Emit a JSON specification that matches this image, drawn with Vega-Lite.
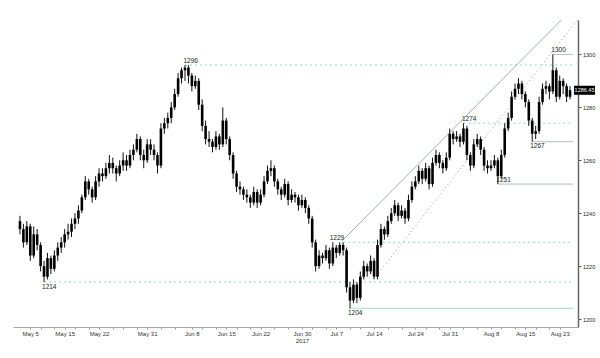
{
"$schema": "https://vega.github.io/schema/vega-lite/v6.json",
"width": 565, "height": 307,
"padding": {"left": 13, "top": 20, "right": 0, "bottom": 0},
"background": "white",
"config": {"view": {"stroke": null}, "font": "Liberation Sans",
 "axisY": {"orient":"right","title":null,"grid":false,"values":[1200,1210,1220,1230,1240,1250,1260,1270,1280,1290,1300,1310],"labelExpr":"datum.value % 20 == 0 ? datum.label : ''","format":"d","domainColor":"#666","domainWidth":1.5,"tickColor":"#555","tickSize":3,"labelFontSize":5.5,"labelColor":"#222","labelPadding":1.5,"labelOverlap":false,"labelFlush":false}},
"datasets": {
"ohlc": [
{"i":0,"o":1237,"h":1239,"l":1232,"c":1234},{"i":1,"o":1234,"h":1236,"l":1227,"c":1229},{"i":2,"o":1229,"h":1237,"l":1228,"c":1235},{"i":3,"o":1235,"h":1236,"l":1222,"c":1224},{"i":4,"o":1224,"h":1235,"l":1223,"c":1232},{"i":5,"o":1232,"h":1234,"l":1226,"c":1228},{"i":6,"o":1228,"h":1229,"l":1218,"c":1220},{"i":7,"o":1220,"h":1222,"l":1214,"c":1216},{"i":8,"o":1216,"h":1225,"l":1215,"c":1223},{"i":9,"o":1223,"h":1224,"l":1217,"c":1219},
{"i":10,"o":1219,"h":1226,"l":1218,"c":1224},{"i":11,"o":1224,"h":1229,"l":1222,"c":1227},{"i":12,"o":1227,"h":1231,"l":1225,"c":1229},{"i":13,"o":1229,"h":1234,"l":1227,"c":1232},{"i":14,"o":1232,"h":1236,"l":1230,"c":1233},{"i":15,"o":1233,"h":1238,"l":1231,"c":1236},{"i":16,"o":1236,"h":1240,"l":1234,"c":1238},{"i":17,"o":1238,"h":1243,"l":1236,"c":1241},{"i":18,"o":1241,"h":1247,"l":1240,"c":1246},{"i":19,"o":1246,"h":1254,"l":1245,"c":1252},
{"i":20,"o":1252,"h":1253,"l":1247,"c":1249},{"i":21,"o":1249,"h":1250,"l":1244,"c":1246},{"i":22,"o":1246,"h":1254,"l":1245,"c":1252},{"i":23,"o":1252,"h":1257,"l":1250,"c":1255},{"i":24,"o":1255,"h":1257,"l":1252,"c":1254},{"i":25,"o":1254,"h":1259,"l":1253,"c":1257},{"i":26,"o":1257,"h":1262,"l":1255,"c":1259},{"i":27,"o":1259,"h":1261,"l":1255,"c":1257},{"i":28,"o":1257,"h":1258,"l":1252,"c":1255},{"i":29,"o":1255,"h":1260,"l":1254,"c":1258},
{"i":30,"o":1258,"h":1263,"l":1256,"c":1260},{"i":31,"o":1260,"h":1262,"l":1256,"c":1258},{"i":32,"o":1258,"h":1264,"l":1257,"c":1262},{"i":33,"o":1262,"h":1266,"l":1260,"c":1264},{"i":34,"o":1264,"h":1270,"l":1263,"c":1268},{"i":35,"o":1268,"h":1269,"l":1260,"c":1262},{"i":36,"o":1262,"h":1264,"l":1257,"c":1260},{"i":37,"o":1260,"h":1268,"l":1259,"c":1266},{"i":38,"o":1266,"h":1268,"l":1262,"c":1264},{"i":39,"o":1264,"h":1266,"l":1260,"c":1262},
{"i":40,"o":1262,"h":1263,"l":1255,"c":1258},{"i":41,"o":1258,"h":1274,"l":1257,"c":1272},{"i":42,"o":1272,"h":1276,"l":1270,"c":1274},{"i":43,"o":1274,"h":1278,"l":1272,"c":1276},{"i":44,"o":1276,"h":1282,"l":1274,"c":1280},{"i":45,"o":1280,"h":1287,"l":1279,"c":1285},{"i":46,"o":1285,"h":1293,"l":1284,"c":1291},{"i":47,"o":1291,"h":1295,"l":1289,"c":1294},{"i":48,"o":1294,"h":1296,"l":1290,"c":1295},{"i":49,"o":1295,"h":1296,"l":1289,"c":1292},
{"i":50,"o":1292,"h":1293,"l":1286,"c":1288},{"i":51,"o":1288,"h":1292,"l":1287,"c":1290},{"i":52,"o":1290,"h":1291,"l":1279,"c":1281},{"i":53,"o":1281,"h":1283,"l":1271,"c":1273},{"i":54,"o":1273,"h":1275,"l":1266,"c":1268},{"i":55,"o":1268,"h":1271,"l":1265,"c":1267},{"i":56,"o":1267,"h":1268,"l":1263,"c":1265},{"i":57,"o":1265,"h":1271,"l":1264,"c":1269},{"i":58,"o":1269,"h":1270,"l":1264,"c":1266},{"i":59,"o":1266,"h":1280,"l":1265,"c":1275},
{"i":60,"o":1275,"h":1276,"l":1266,"c":1268},{"i":61,"o":1268,"h":1269,"l":1260,"c":1262},{"i":62,"o":1262,"h":1263,"l":1253,"c":1255},{"i":63,"o":1255,"h":1256,"l":1248,"c":1250},{"i":64,"o":1250,"h":1252,"l":1247,"c":1249},{"i":65,"o":1249,"h":1250,"l":1245,"c":1247},{"i":66,"o":1247,"h":1249,"l":1244,"c":1246},{"i":67,"o":1246,"h":1247,"l":1242,"c":1244},{"i":68,"o":1244,"h":1250,"l":1243,"c":1248},{"i":69,"o":1248,"h":1249,"l":1242,"c":1244},
{"i":70,"o":1244,"h":1249,"l":1243,"c":1247},{"i":71,"o":1247,"h":1254,"l":1246,"c":1252},{"i":72,"o":1252,"h":1258,"l":1251,"c":1256},{"i":73,"o":1256,"h":1260,"l":1254,"c":1257},{"i":74,"o":1257,"h":1258,"l":1250,"c":1252},{"i":75,"o":1252,"h":1253,"l":1247,"c":1249},{"i":76,"o":1249,"h":1250,"l":1245,"c":1247},{"i":77,"o":1247,"h":1253,"l":1246,"c":1251},{"i":78,"o":1251,"h":1252,"l":1243,"c":1245},{"i":79,"o":1245,"h":1249,"l":1244,"c":1247},
{"i":80,"o":1247,"h":1248,"l":1244,"c":1246},{"i":81,"o":1246,"h":1247,"l":1241,"c":1243},{"i":82,"o":1243,"h":1247,"l":1242,"c":1245},{"i":83,"o":1245,"h":1246,"l":1240,"c":1242},{"i":84,"o":1242,"h":1243,"l":1236,"c":1238},{"i":85,"o":1238,"h":1239,"l":1227,"c":1229},{"i":86,"o":1229,"h":1230,"l":1218,"c":1220},{"i":87,"o":1220,"h":1226,"l":1219,"c":1224},{"i":88,"o":1224,"h":1225,"l":1221,"c":1223},{"i":89,"o":1223,"h":1228,"l":1222,"c":1226},
{"i":90,"o":1226,"h":1227,"l":1219,"c":1221},{"i":91,"o":1221,"h":1229,"l":1220,"c":1227},{"i":92,"o":1227,"h":1228,"l":1223,"c":1225},{"i":93,"o":1225,"h":1229,"l":1224,"c":1228},{"i":94,"o":1228,"h":1229,"l":1224,"c":1226},{"i":95,"o":1226,"h":1227,"l":1210,"c":1212},{"i":96,"o":1212,"h":1214,"l":1204,"c":1207},{"i":97,"o":1207,"h":1215,"l":1206,"c":1213},{"i":98,"o":1213,"h":1214,"l":1206,"c":1208},{"i":99,"o":1208,"h":1218,"l":1207,"c":1216},
{"i":100,"o":1216,"h":1222,"l":1215,"c":1220},{"i":101,"o":1220,"h":1221,"l":1216,"c":1218},{"i":102,"o":1218,"h":1224,"l":1217,"c":1222},{"i":103,"o":1222,"h":1223,"l":1215,"c":1216},{"i":104,"o":1216,"h":1230,"l":1215,"c":1228},{"i":105,"o":1228,"h":1236,"l":1227,"c":1234},{"i":106,"o":1234,"h":1235,"l":1230,"c":1232},{"i":107,"o":1232,"h":1239,"l":1231,"c":1237},{"i":108,"o":1237,"h":1242,"l":1236,"c":1240},{"i":109,"o":1240,"h":1245,"l":1239,"c":1243},
{"i":110,"o":1243,"h":1244,"l":1237,"c":1239},{"i":111,"o":1239,"h":1243,"l":1238,"c":1241},{"i":112,"o":1241,"h":1242,"l":1236,"c":1238},{"i":113,"o":1238,"h":1247,"l":1237,"c":1245},{"i":114,"o":1245,"h":1252,"l":1244,"c":1250},{"i":115,"o":1250,"h":1254,"l":1249,"c":1252},{"i":116,"o":1252,"h":1258,"l":1251,"c":1256},{"i":117,"o":1256,"h":1257,"l":1251,"c":1253},{"i":118,"o":1253,"h":1259,"l":1252,"c":1257},{"i":119,"o":1257,"h":1258,"l":1249,"c":1251},
{"i":120,"o":1251,"h":1261,"l":1250,"c":1259},{"i":121,"o":1259,"h":1264,"l":1258,"c":1262},{"i":122,"o":1262,"h":1263,"l":1257,"c":1259},{"i":123,"o":1259,"h":1260,"l":1255,"c":1257},{"i":124,"o":1257,"h":1263,"l":1256,"c":1261},{"i":125,"o":1261,"h":1272,"l":1260,"c":1270},{"i":126,"o":1270,"h":1271,"l":1266,"c":1268},{"i":127,"o":1268,"h":1271,"l":1267,"c":1269},{"i":128,"o":1269,"h":1270,"l":1265,"c":1267},{"i":129,"o":1267,"h":1274,"l":1266,"c":1272},
{"i":130,"o":1272,"h":1273,"l":1260,"c":1262},{"i":131,"o":1262,"h":1263,"l":1256,"c":1258},{"i":132,"o":1258,"h":1268,"l":1257,"c":1266},{"i":133,"o":1266,"h":1270,"l":1265,"c":1268},{"i":134,"o":1268,"h":1269,"l":1262,"c":1264},{"i":135,"o":1264,"h":1265,"l":1256,"c":1258},{"i":136,"o":1258,"h":1260,"l":1255,"c":1257},{"i":137,"o":1257,"h":1260,"l":1256,"c":1258},{"i":138,"o":1258,"h":1262,"l":1257,"c":1260},{"i":139,"o":1260,"h":1261,"l":1251,"c":1254},
{"i":140,"o":1254,"h":1264,"l":1253,"c":1262},{"i":141,"o":1262,"h":1274,"l":1261,"c":1272},{"i":142,"o":1272,"h":1278,"l":1271,"c":1276},{"i":143,"o":1276,"h":1286,"l":1275,"c":1284},{"i":144,"o":1284,"h":1289,"l":1283,"c":1287},{"i":145,"o":1287,"h":1291,"l":1285,"c":1289},{"i":146,"o":1289,"h":1290,"l":1283,"c":1285},{"i":147,"o":1285,"h":1286,"l":1280,"c":1282},{"i":148,"o":1282,"h":1283,"l":1273,"c":1275},{"i":149,"o":1275,"h":1276,"l":1267,"c":1270},
{"i":150,"o":1270,"h":1273,"l":1268,"c":1271},{"i":151,"o":1271,"h":1284,"l":1270,"c":1282},{"i":152,"o":1282,"h":1289,"l":1281,"c":1287},{"i":153,"o":1287,"h":1290,"l":1285,"c":1288},{"i":154,"o":1288,"h":1289,"l":1283,"c":1286},{"i":155,"o":1286,"h":1300,"l":1285,"c":1294},{"i":156,"o":1294,"h":1295,"l":1282,"c":1284},{"i":157,"o":1284,"h":1292,"l":1283,"c":1290},{"i":158,"o":1290,"h":1291,"l":1285,"c":1288},{"i":159,"o":1288,"h":1289,"l":1282,"c":1284},
{"i":160,"o":1284,"h":1288,"l":1283,"c":1286.45}
],
"levels": [
{"i":48,"p":1296,"style":"dash"},{"i":7,"p":1214,"style":"dash"},{"i":94,"p":1229,"style":"dash"},{"i":129,"p":1274,"style":"dash"},
{"i":96,"p":1204,"style":"teal"},
{"i":139,"p":1251,"style":"grey"},{"i":149,"p":1267,"style":"grey"},{"i":155,"p":1300,"style":"grey"}
],
"chan": [
{"line":"upper","i":93.7,"p":1229.5},{"line":"upper","i":163,"p":1320.3},
{"line":"lower","i":102.9,"p":1215.1},{"line":"lower","i":163,"p":1314.5}
],
"notes": [
{"i":48,"p":1296,"side":"above"},{"i":129,"p":1274,"side":"above"},{"i":139,"p":1251,"side":"above"},{"i":155,"p":1300,"side":"above"},
{"i":7,"p":1214,"side":"below"},{"i":96,"p":1204,"side":"below"},{"i":149,"p":1267,"side":"below"},
{"i":94,"p":1229,"side":"left"}
],
"last": [{"i":160,"c":1286.45}]
},
"encoding": {
"x": {"field":"i","type":"quantitative","scale":{"domain":[-0.57,160.86],"nice":false,"zero":false},
"axis":{"title":null,"grid":false,"domainColor":"#aaa","domainWidth":1,"tickColor":"#999","tickSize":2,"labelPadding":1,"labelFontSize":6,"labelColor":"#333","labelOverlap":false,"labelFlush":false,"labelLineHeight":7,
"values":[3,6,10,13,16,20,23,27,30,34,37,41,45,50,53,57,60,63,67,70,74,78,82,85,89,92,96,99,103,107,111,115,118,122,125,129,133,137,140,144,147,150,154,157],
"labelExpr":"datum.value==3?'May 5':datum.value==13?'May 15':datum.value==23?'May 22':datum.value==37?'May 31':datum.value==50?'Jun 8':datum.value==60?'Jun 15':datum.value==70?'Jun 22':datum.value==82?['Jun 30','2017']:datum.value==92?'Jul 7':datum.value==103?'Jul 14':datum.value==115?'Jul 24':datum.value==125?'Jul 31':datum.value==137?'Aug 8':datum.value==147?'Aug 15':datum.value==157?'Aug 23':''"}}
},
"layer": [
{"data":{"name":"levels"},"transform":[{"filter":"datum.style=='dash'"}],
 "mark":{"type":"rule","color":"#8fd9c0","strokeWidth":1,"strokeDash":[2,3]},
 "encoding":{"x2":{"datum":160.86},"y":{"field":"p","type":"quantitative","scale":{"domain":[1197,1313],"nice":false,"zero":false},"title":null}}},
{"data":{"name":"levels"},"transform":[{"filter":"datum.style=='teal'"}],
 "mark":{"type":"rule","color":"#b5e0da","strokeWidth":1.2},
 "encoding":{"x2":{"datum":160.86},"y":{"field":"p","type":"quantitative","title":null}}},
{"data":{"name":"levels"},"transform":[{"filter":"datum.style=='grey'"}],
 "mark":{"type":"rule","color":"#b3bcbc","strokeWidth":1},
 "encoding":{"x2":{"datum":160.86},"y":{"field":"p","type":"quantitative","title":null}}},
{"data":{"name":"chan"},"transform":[{"filter":"datum.line=='upper'"}],
 "mark":{"type":"line","color":"#9fb4b4","strokeWidth":1,"clip":true},
 "encoding":{"y":{"field":"p","type":"quantitative","title":null}}},
{"data":{"name":"chan"},"transform":[{"filter":"datum.line=='lower'"}],
 "mark":{"type":"line","color":"#999999","strokeWidth":1,"strokeDash":[1,3],"clip":true},
 "encoding":{"y":{"field":"p","type":"quantitative","title":null}}},
{"data":{"name":"ohlc"},
 "mark":{"type":"rule","color":"#111","strokeWidth":1},
 "encoding":{"y":{"field":"l","type":"quantitative","title":null},"y2":{"field":"h"}}},
{"data":{"name":"ohlc"},
 "mark":{"type":"bar","color":"#000","size":2.6},
 "encoding":{"y":{"field":"o","type":"quantitative","title":null},"y2":{"field":"c"}}},
{"data":{"name":"notes"},"transform":[{"filter":"datum.side=='above'"}],
 "mark":{"type":"text","align":"left","baseline":"bottom","dx":-1.5,"dy":-1,"fontSize":6.5,"color":"#222"},
 "encoding":{"y":{"field":"p","type":"quantitative","title":null},"text":{"field":"p","type":"quantitative","format":"d"}}},
{"data":{"name":"notes"},"transform":[{"filter":"datum.side=='below'"}],
 "mark":{"type":"text","align":"left","baseline":"top","dx":-2,"dy":1.5,"fontSize":6.5,"color":"#222"},
 "encoding":{"y":{"field":"p","type":"quantitative","title":null},"text":{"field":"p","type":"quantitative","format":"d"}}},
{"data":{"name":"notes"},"transform":[{"filter":"datum.side=='left'"}],
 "mark":{"type":"text","align":"right","baseline":"bottom","dx":1,"dy":-1,"fontSize":6.5,"color":"#222"},
 "encoding":{"y":{"field":"p","type":"quantitative","title":null},"text":{"field":"p","type":"quantitative","format":"d"}}},
{"data":{"name":"last"},
 "mark":{"type":"point","shape":"M-1,-0.43L1,-0.43L1,0.43L-1,0.43Z","size":441,"filled":true,"color":"#000","opacity":1,"xOffset":14.5},
 "encoding":{"y":{"field":"c","type":"quantitative","title":null}}},
{"data":{"name":"last"},
 "mark":{"type":"text","align":"center","baseline":"middle","dx":14.5,"fontSize":5.5,"color":"#fff"},
 "encoding":{"y":{"field":"c","type":"quantitative","title":null},"text":{"field":"c","type":"quantitative","format":".2f"}}}
]
}
